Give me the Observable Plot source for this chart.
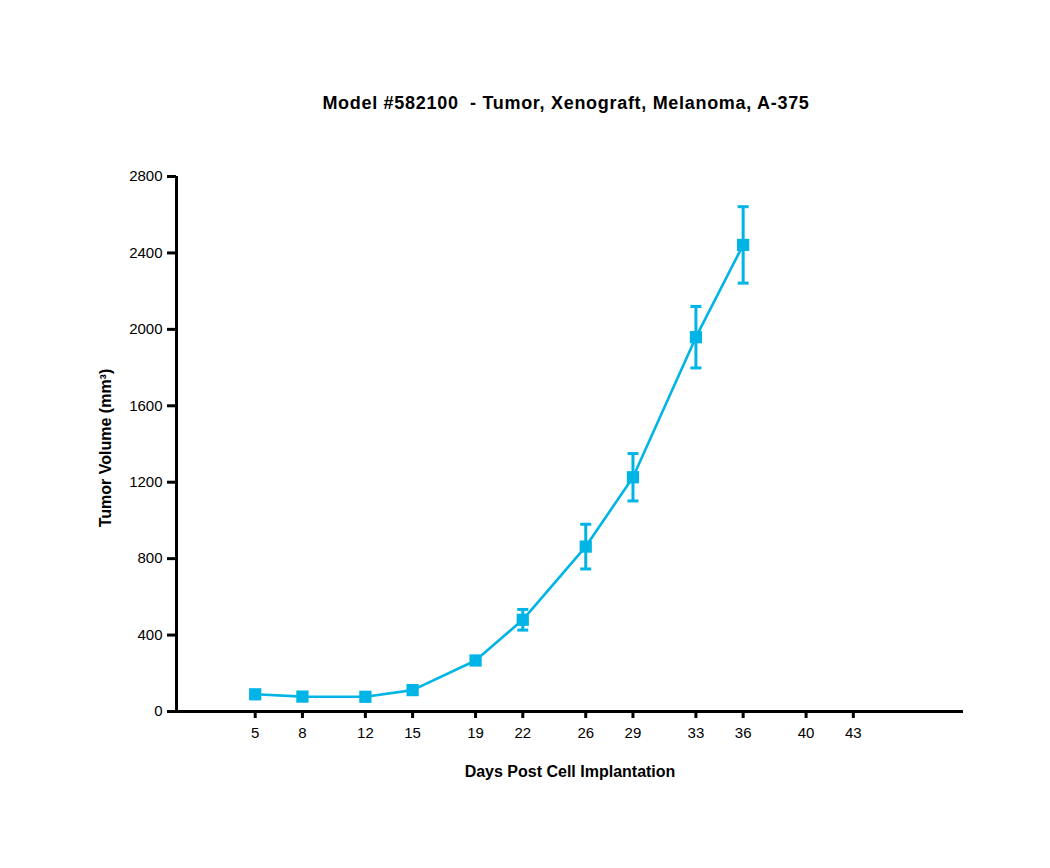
<!DOCTYPE html>
<html>
<head>
<meta charset="utf-8">
<script src="https://cdn.jsdelivr.net/npm/d3@7"></script>
<script src="https://cdn.jsdelivr.net/npm/@observablehq/plot@0.6"></script>
<style>
  html, body { margin: 0; padding: 0; background: #fff; }
  body { width: 1050px; height: 868px; overflow: hidden; font-family: "Liberation Sans", Arial, sans-serif; color: #000; }
  #title { box-sizing: border-box; height: 140px; padding-top: 93px; padding-left: 82px; width: 1050px; text-align: center; font-weight: bold; font-size: 18px; line-height: 20px; white-space: pre; letter-spacing: 0.7px; }
</style>
</head>
<body>
<div id="title"></div>
<div id="chart"></div>
<script>
const titleText = "Model #582100  - Tumor, Xenograft, Melanoma, A-375";
const xLabel = "Days Post Cell Implantation";
const yLabel = "Tumor Volume (mm³)";
const days = [5, 8, 12, 15, 19, 22, 26, 29, 33, 36];
const volume = [90, 78, 77, 112, 267, 480, 863, 1226, 1959, 2442];
const sem = [10, 8, 8, 10, 15, 54, 117, 124, 161, 200];
const xTicks = [5, 8, 12, 15, 19, 22, 26, 29, 33, 36, 40, 43];
const yTicks = [0, 400, 800, 1200, 1600, 2000, 2400, 2800];

const color = "#00b5e5";
const rows = days.map((d, i) => ({day: d, v: volume[i], lo: volume[i] - sem[i], hi: volume[i] + sem[i]}));

const capSymbol = {
  draw(context, size) {
    const w = 5.5;
    context.moveTo(-w, 0);
    context.lineTo(w, 0);
  }
};

document.getElementById("title").textContent = titleText;

const plot = Plot.plot({
  width: 1050,
  height: 728,
  marginTop: 36,
  marginBottom: 157,
  marginLeft: 176,
  marginRight: 87,
  style: {fontFamily: '"Liberation Sans", Arial, sans-serif', fontSize: "15px", color: "#000", background: "#fff"},
  x: {domain: [0, 50]},
  y: {domain: [0, 2800]},
  marks: [
    Plot.axisX({ticks: xTicks, tickSize: 7, tickPadding: 9, strokeWidth: 3, label: null, fontSize: 15, tickFormat: d3.format("d")}),
    Plot.axisY({ticks: yTicks, tickSize: 9, tickPadding: 5, strokeWidth: 3, label: null, fontSize: 15, tickFormat: d3.format("d")}),
    Plot.ruleY([0], {stroke: "#000", strokeWidth: 3}),
    Plot.ruleX([0], {stroke: "#000", strokeWidth: 3}),
    Plot.line(rows, {x: "day", y: "v", stroke: color, strokeWidth: 2.6}),
    Plot.ruleX(rows, {x: "day", y1: "lo", y2: "hi", stroke: color, strokeWidth: 3}),
    Plot.dot(rows, {x: "day", y: "lo", symbol: capSymbol, r: 5, fill: "none", stroke: color, strokeWidth: 3}),
    Plot.dot(rows, {x: "day", y: "hi", symbol: capSymbol, r: 5, fill: "none", stroke: color, strokeWidth: 3}),
    Plot.dot(rows, {x: "day", y: "v", symbol: "square", r: 6.9, fill: color, stroke: "none"}),
    Plot.text([xLabel], {frameAnchor: "bottom", dy: 65, fontWeight: "bold", fontSize: 16, letterSpacing: 0.8, fill: "#000"}),
    Plot.text([yLabel], {frameAnchor: "left", dx: -71, dy: 4, rotate: -90, textAnchor: "middle", fontWeight: "bold", fontSize: 16, letterSpacing: 0.8, fill: "#000"})
  ]
});
document.getElementById("chart").appendChild(plot);
</script>
</body>
</html>
